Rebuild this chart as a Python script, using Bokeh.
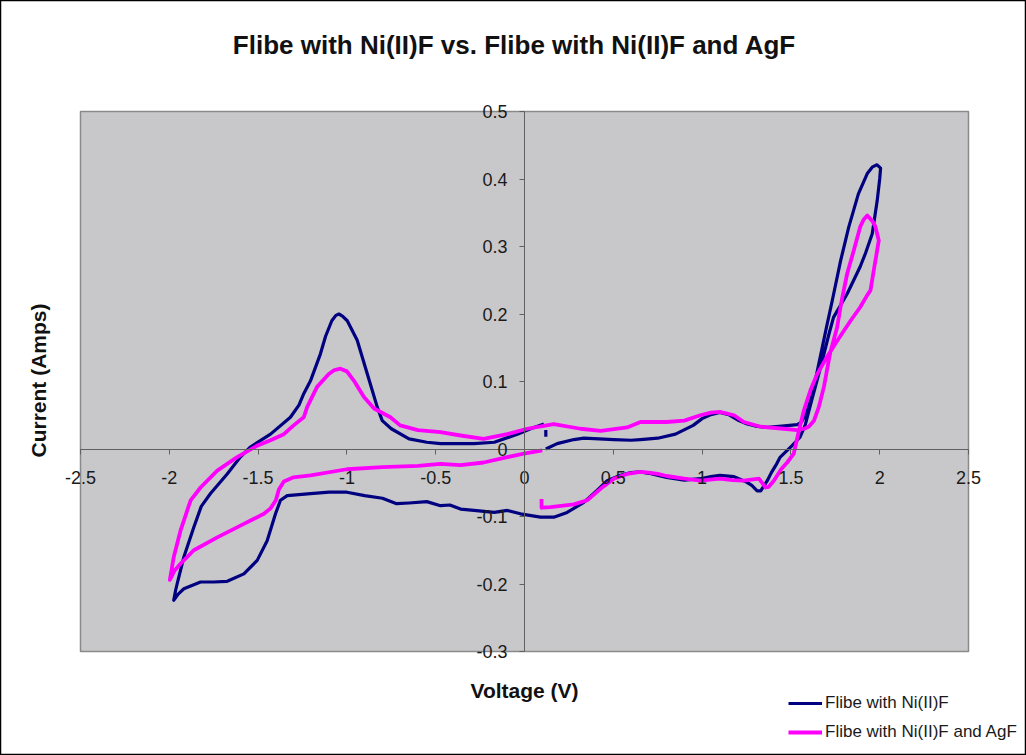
from bokeh.plotting import figure
from bokeh.models import (LinearAxis, FixedTicker, Label, Legend, LegendItem, Range1d)
from bokeh.embed import file_html
from bokeh.resources import INLINE
import math

nan = float("nan")

TITLE = "Flibe with Ni(II)F vs. Flibe with Ni(II)F and AgF"
X_LABEL = "Voltage (V)"
Y_LABEL = "Current (Amps)"
SERIES_NAMES = ["Flibe with Ni(II)F", "Flibe with Ni(II)F and AgF"]
X_TICKS = [-2.5, -2, -1.5, -1, -0.5, 0, 0.5, 1, 1.5, 2, 2.5]
X_TICK_LABELS = ["-2.5", "-2", "-1.5", "-1", "-0.5", "0", "0.5", "1", "1.5", "2", "2.5"]
Y_TICKS = [-0.3, -0.2, -0.1, 0, 0.1, 0.2, 0.3, 0.4, 0.5]
Y_TICK_LABELS = ["-0.3", "-0.2", "-0.1", "0", "0.1", "0.2", "0.3", "0.4", "0.5"]

# Series 1: Flibe with Ni(II)F  (voltage, current)
ni_v = [0.12, 0.184, 0.278, 0.334, 0.42, 0.503, 0.6, 0.653, 0.75, 0.85, 0.95, 1.0, 1.05, 1.1,
        1.15, 1.2, 1.254, 1.3, 1.367, 1.45, 1.535, 1.56, 1.59, 1.62, 1.66, 1.70, 1.733, 1.78,
        1.826, 1.88, 1.93, 1.96, 1.985, 2.005, 2.0, 1.986, 1.958, 1.92, 1.89, 1.817, 1.74, 1.714,
        1.666, 1.62, 1.58, 1.55, 1.507, 1.44, 1.42, 1.39, 1.367, 1.33, 1.31, 1.28, 1.25, 1.18,
        1.10, 1.05, 0.99, 0.9, 0.8, 0.7, 0.653, 0.6, 0.54, 0.466, 0.41, 0.334, 0.24, 0.165, 0.09,
        -0.023, -0.097, -0.17, -0.285, -0.36, -0.42, -0.473, -0.55, -0.65, -0.72, -0.8, -0.9,
        -1.0, -1.1, -1.205, -1.336, -1.374, -1.402, -1.449, -1.505, -1.58, -1.674, -1.75, -1.824,
        -1.918, -1.95, -1.975, -1.965, -1.956, -1.918, -1.862, -1.82, -1.768, -1.674, -1.6,
        -1.543, -1.43, -1.318, -1.27, -1.243, -1.205, -1.149, -1.12, -1.085, -1.062, -1.045,
        -1.025, -0.998, -0.942, -0.885, -0.829, -0.801, -0.75, -0.65, -0.55, -0.473, -0.285,
        -0.17, -0.04, 0.034, 0.109, nan, 0.12, 0.12]
ni_i = [0.0, 0.008, 0.014, 0.016, 0.015, 0.014, 0.013, 0.014, 0.016, 0.022, 0.035, 0.045, 0.051,
        0.054, 0.051, 0.043, 0.037, 0.034, 0.032, 0.034, 0.036, 0.04, 0.055, 0.08, 0.13, 0.18,
        0.22, 0.279, 0.329, 0.378, 0.408, 0.418, 0.421, 0.416, 0.4, 0.368, 0.319, 0.29, 0.27,
        0.23, 0.195, 0.17, 0.12, 0.075, 0.035, 0.017, 0.005, -0.012, -0.022, -0.035, -0.047,
        -0.062, -0.062, -0.054, -0.049, -0.041, -0.039, -0.041, -0.044, -0.046, -0.042, -0.036,
        -0.034, -0.035, -0.039, -0.047, -0.061, -0.079, -0.094, -0.101, -0.101, -0.096, -0.091,
        -0.094, -0.091, -0.089, -0.083, -0.084, -0.078, -0.08, -0.081, -0.073, -0.069, -0.064,
        -0.064, -0.066, -0.069, -0.076, -0.096, -0.136, -0.165, -0.185, -0.196, -0.197, -0.197,
        -0.207, -0.215, -0.224, -0.21, -0.2, -0.16, -0.116, -0.085, -0.066, -0.037, -0.012,
        0.003, 0.022, 0.047, 0.065, 0.082, 0.101, 0.141, 0.167, 0.19, 0.198, 0.2, 0.197, 0.19,
        0.161, 0.111, 0.062, 0.042, 0.03, 0.015, 0.01, 0.008, 0.008, 0.01, 0.022, 0.03, 0.037,
        nan, 0.028, 0.018]

# Series 2: Flibe with Ni(II)F and AgF
ag_v = [0.096, 0.096, 0.146, 0.278, 0.353, 0.428, 0.503, 0.578, 0.653, 0.7, 0.75, 0.8, 0.9, 0.99,
        1.10, 1.17, 1.235, 1.32, 1.357, 1.375, 1.404, 1.445, 1.479, 1.516, 1.545, 1.573, 1.61,
        1.648, 1.7, 1.76, 1.836, 1.89, 1.93, 1.948, 1.97, 1.995, 1.975, 1.958, 1.93, 1.91, 1.89,
        1.854, 1.817, 1.786, 1.76, 1.72, 1.686, 1.657, 1.63, 1.6, 1.575, 1.535, 1.46, 1.33, 1.235,
        1.18, 1.10, 1.05, 0.99, 0.9, 0.8, 0.7, 0.653, 0.578, 0.43, 0.315, 0.165, 0.1, 0.015,
        -0.097, -0.23, -0.36, -0.473, -0.6, -0.7, -0.755, -0.847, -0.904, -0.96, -1.0, -1.036,
        -1.07, -1.102, -1.168, -1.224, -1.243, -1.3, -1.355, -1.43, -1.505, -1.618, -1.73,
        -1.824, -1.88, -1.918, -1.937, -1.975, -1.997, -1.97, -1.937, -1.862, -1.73, -1.58,
        -1.52, -1.467, -1.43, -1.4, -1.383, -1.355, -1.3, -1.205, -1.0, -0.8, -0.6, -0.473,
        -0.36, -0.23, -0.097, -0.004, 0.1]
ag_i = [-0.074, -0.087, -0.086, -0.082, -0.076, -0.059, -0.044, -0.037, -0.034, -0.035, -0.037,
        -0.04, -0.044, -0.047, -0.044, -0.046, -0.047, -0.044, -0.057, -0.056, -0.047, -0.03,
        -0.02, -0.007, 0.027, 0.057, 0.087, 0.111, 0.135, 0.16, 0.19, 0.21, 0.228, 0.235, 0.27,
        0.309, 0.33, 0.338, 0.346, 0.34, 0.329, 0.294, 0.26, 0.22, 0.18, 0.141, 0.092, 0.062,
        0.042, 0.033, 0.03, 0.028, 0.03, 0.033, 0.04, 0.05, 0.055, 0.054, 0.05, 0.042, 0.04, 0.04,
        0.04, 0.032, 0.027, 0.03, 0.037, 0.034, 0.03, 0.022, 0.015, 0.02, 0.025, 0.028, 0.035,
        0.047, 0.06, 0.077, 0.101, 0.115, 0.119, 0.117, 0.111, 0.092, 0.062, 0.047, 0.035, 0.022,
        0.013, 0.005, -0.012, -0.032, -0.057, -0.076, -0.106, -0.121, -0.16, -0.194, -0.18,
        -0.17, -0.15, -0.131, -0.111, -0.103, -0.096, -0.088, -0.076, -0.06, -0.048, -0.042,
        -0.039, -0.03, -0.027, -0.025, -0.022, -0.024, -0.02, -0.012, -0.007, -0.002]

FONT = "Liberation Sans"
W, H = 1026, 755
# plot area in pixels: left 80, right 968, top 111, bottom 651
PX_X = (968 - 80) / (X_TICKS[-1] - X_TICKS[0])
PX_Y = (651 - 111) / (Y_TICKS[-1] - Y_TICKS[0])
x0 = X_TICKS[0] - 80 / PX_X
x1 = X_TICKS[-1] + (W - 968) / PX_X
y1 = Y_TICKS[-1] + 111 / PX_Y
y0 = Y_TICKS[0] - (H - 651) / PX_Y

def sx(px):  # page pixel -> data x (for text placement only)
    return X_TICKS[0] + (px - 80) / PX_X

def sy(py):
    return Y_TICKS[-1] - (py - 111) / PX_Y

p = figure(width=W, height=H, output_backend="svg", toolbar_location=None,
           x_range=Range1d(x0, x1), y_range=Range1d(y0, y1),
           x_axis_location=None, y_axis_location=None, min_border=0)
p.title.visible = False
p.background_fill_color = "white"
p.border_fill_color = "white"
p.outline_line_color = "black"
p.outline_line_width = 1.5
p.xgrid.visible = False
p.ygrid.visible = False

# gray plot area spanning the axis ranges
p.quad(left=[X_TICKS[0]], right=[X_TICKS[-1]], bottom=[Y_TICKS[0]], top=[Y_TICKS[-1]],
       fill_color="#c8c8ca", line_color="#8a8a8a", line_width=1.5)

xax = LinearAxis(fixed_location=0, ticker=FixedTicker(ticks=X_TICKS),
                 bounds=(X_TICKS[0], X_TICKS[-1]),
                 major_label_overrides={t: l for t, l in zip(X_TICKS, X_TICK_LABELS)})
yax = LinearAxis(fixed_location=0, ticker=FixedTicker(ticks=Y_TICKS),
                 bounds=(Y_TICKS[0], Y_TICKS[-1]),
                 major_label_overrides={t: l for t, l in zip(Y_TICKS, Y_TICK_LABELS)})
for ax, st in ((xax, 17), (yax, 12)):
    ax.axis_line_color = "#606060"
    ax.major_tick_line_color = "#606060"
    ax.major_tick_out = 5
    ax.major_tick_in = 0
    ax.minor_tick_line_color = None
    ax.major_label_text_font = FONT
    ax.major_label_text_font_size = "18px"
    ax.major_label_text_color = "#1a1a1a"
    ax.major_label_standoff = st
p.add_layout(xax, "below")
p.add_layout(yax, "left")

r1 = p.line(ni_v, ni_i, line_color="#000080", line_width=3.2, line_join="round")
r2 = p.line(ag_v, ag_i, line_color="#ff00ff", line_width=3.8, line_join="round")

p.add_layout(Label(x=sx(514), y=sy(44), text=TITLE, text_align="center", text_baseline="middle",
                   text_font=FONT, text_font_size="26px", text_font_style="bold",
                   text_color="#111111"))
p.add_layout(Label(x=sx(524), y=sy(690), text=X_LABEL, text_align="center",
                   text_baseline="middle", text_font=FONT, text_font_size="21px",
                   text_font_style="bold", text_color="#111111"))
p.add_layout(Label(x=sx(38), y=sy(380), text=Y_LABEL, text_align="center",
                   text_baseline="middle", angle=math.pi / 2, text_font=FONT,
                   text_font_size="21px", text_font_style="bold", text_color="#111111"))

legend = Legend(items=[LegendItem(label=SERIES_NAMES[0], renderers=[r1]),
                       LegendItem(label=SERIES_NAMES[1], renderers=[r2])],
                location=(788, H - 742), orientation="vertical",
                background_fill_alpha=0, border_line_color=None,
                label_text_font=FONT, label_text_font_size="17px", label_text_color="#1a1a1a",
                glyph_width=34, glyph_height=20, label_height=20, label_standoff=3,
                spacing=9, padding=0, margin=0)
p.add_layout(legend, "center")

open("out.html", "w").write(file_html(p, INLINE))
